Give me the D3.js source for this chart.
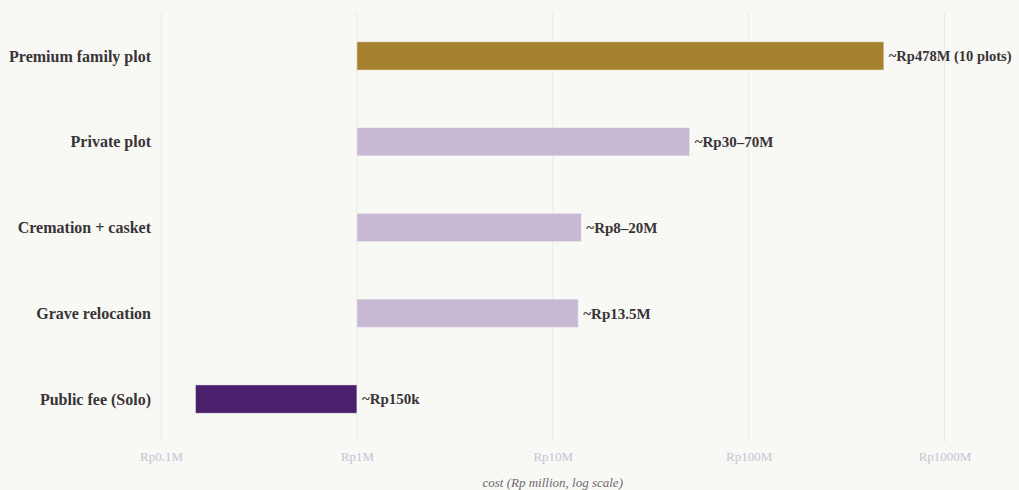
<!DOCTYPE html>
<html>
<head>
<meta charset="utf-8">
<script src="https://cdn.jsdelivr.net/npm/d3@7"></script>
<style>
  body { margin: 0; background: #f8f8f4; }
  svg { display: block; }
</style>
</head>
<body>
<svg></svg>
<script>
// chart data (Rp million)
const categories = ["Premium family plot", "Private plot", "Cremation + casket", "Grave relocation", "Public fee (Solo)"];
const barStart = [1, 1, 1, 1, 0.15];
const barEnd = [490, 50, 14, 13.5, 1];
const valueLabels = ["~Rp478M (10 plots)", "~Rp30\u201370M", "~Rp8\u201320M", "~Rp13.5M", "~Rp150k"];
const barColors = ["#a6812f", "#c7b8d4", "#c7b8d4", "#c7b8d4", "#4a1f6b"];
const tickValues = [0.1, 1, 10, 100, 1000];
const tickLabels = ["Rp0.1M", "Rp1M", "Rp10M", "Rp100M", "Rp1000M"];

const width = 1019, height = 490;
const plotLeft = 161, plotRight = 944.5, plotTop = 13, plotBottom = 442;

const svg = d3.select("svg")
    .attr("width", width)
    .attr("height", height);

svg.append("rect")
    .attr("width", width)
    .attr("height", height)
    .attr("fill", "#f8f8f4");

const x = d3.scaleLog()
    .domain([0.1, 1000])
    .range([plotLeft, plotRight]);

const y = d3.scaleBand()
    .domain(categories)
    .range([plotTop, plotBottom])
    .paddingInner(0.67)
    .paddingOuter(0.335);

// vertical grid lines
svg.append("g")
    .selectAll("line")
    .data(tickValues)
    .enter().append("line")
    .attr("x1", d => x(d))
    .attr("x2", d => x(d))
    .attr("y1", plotTop)
    .attr("y2", plotBottom)
    .attr("stroke", "#ebe8ec")
    .attr("stroke-width", 1);

// x axis tick labels
const xAxis = d3.axisBottom(x)
    .tickValues(tickValues)
    .tickFormat((d, i) => tickLabels[i])
    .tickSize(0)
    .tickPadding(0);

const gx = svg.append("g")
    .attr("transform", `translate(0, ${plotBottom + 10})`)
    .call(xAxis);
gx.select(".domain").remove();
gx.selectAll("text")
    .attr("font-family", "Liberation Serif, serif")
    .attr("font-size", "13px")
    .attr("fill", "#cbc2d8");

// axis title
svg.append("text")
    .attr("x", (plotLeft + plotRight) / 2)
    .attr("y", 487)
    .attr("text-anchor", "middle")
    .attr("font-family", "Liberation Serif, serif")
    .attr("font-style", "italic")
    .attr("font-size", "13px")
    .attr("fill", "#6e6a70")
    .text("cost (Rp million, log scale)");

// category labels
svg.append("g")
    .selectAll("text")
    .data(categories)
    .enter().append("text")
    .attr("x", 151)
    .attr("y", d => y(d) + y.bandwidth() / 2)
    .attr("dy", "0.35em")
    .attr("text-anchor", "end")
    .attr("font-family", "Liberation Serif, serif")
    .attr("font-weight", "bold")
    .attr("font-size", "16px")
    .attr("fill", "#383438")
    .text(d => d);

// bars
svg.append("g")
    .selectAll("rect")
    .data(categories)
    .enter().append("rect")
    .attr("x", (d, i) => x(barStart[i]))
    .attr("y", d => y(d))
    .attr("width", (d, i) => x(barEnd[i]) - x(barStart[i]))
    .attr("height", y.bandwidth())
    .attr("fill", (d, i) => barColors[i])
    .attr("stroke", "rgba(255,255,255,0.45)")
    .attr("stroke-width", 1);

// value labels
svg.append("g")
    .selectAll("text")
    .data(categories)
    .enter().append("text")
    .attr("x", (d, i) => x(barEnd[i]) + 5)
    .attr("y", d => y(d) + y.bandwidth() / 2)
    .attr("dy", "0.35em")
    .attr("font-family", "Liberation Serif, serif")
    .attr("font-weight", "bold")
    .attr("font-size", (d, i) => i === 0 ? "14.5px" : "15px")
    .attr("fill", "#383438")
    .text((d, i) => valueLabels[i]);
</script>
</body>
</html>
